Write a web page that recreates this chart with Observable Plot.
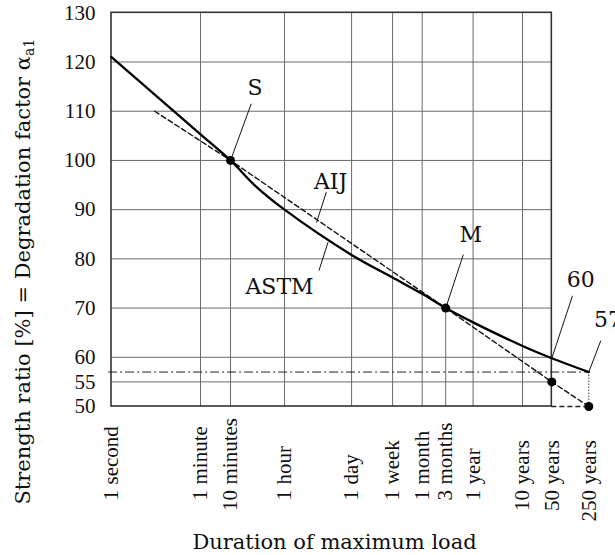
<!DOCTYPE html>
<html><head><meta charset="utf-8">
<script src="https://cdn.jsdelivr.net/npm/d3@7"></script>
<script src="https://cdn.jsdelivr.net/npm/@observablehq/plot@0.6"></script>
<style>body{margin:0;background:#fff}#chart{width:615px;height:555px}</style>
</head><body><div id="chart"></div>
<script>
// Duration axis of the figure (schematic log scale, positions in "decades" as drawn)
const durationNumbers = ["1","1","10","1","1","1","1","3","1","10","50","250"];
const durationUnits = ["second","minute","minutes","hour","day","week","month","months","year","years","years","years"];
const durationPos = [0, 1.854, 2.479, 3.604, 5.0, 5.854, 6.47, 6.96, 7.53, 8.56, 9.17, 9.94];
const fullGridIdx = [1, 3, 4, 5, 6, 8, 9];
const yTicks = [50, 55, 60, 70, 80, 90, 100, 110, 120, 130];
const yGrid = [55, 60, 70, 80, 90, 100, 110, 120];

// ASTM (Madison) curve
const astmX = [0, 1.854, 2.479, 3.0, 3.604, 5.0, 5.854, 6.47, 6.96, 7.53, 8.56, 9.17, 9.94];
const astmY = [121, 105.3, 100, 94.8, 90, 80.8, 76.2, 72.9, 70, 67.1, 62.3, 59.8, 57];
// AIJ straight line
const aijX = [0.9, 2.479, 6.96, 9.17, 9.94];
const aijY = [110, 100, 70, 55, 50];
// marked points: S, M, 50 years, 250 years
const pointX = [2.479, 6.96, 9.17, 9.94];
const pointY = [100, 70, 55, 50];
const limitLevel = 57;

// annotations
const labelText = ["S", "AIJ", "ASTM", "M", "60", "57"];
const labelX = [2.99, 4.5625, 3.5, 7.48, 9.77, 10.05];
const labelY = [113.2, 94.2, 72.76, 83.38, 74.24, 66.1];
const labelAnchor = ["middle", "middle", "middle", "middle", "middle", "start"];
const leaderX1 = [2.91, 4.473, 4.32, 7.327, 9.6, 10.19];
const leaderY1 = [111.5, 93.54, 77.6, 80.87, 72.5, 63.4];
const leaderX2 = [2.479, 4.27, 4.51, 6.96, 9.17, 9.94];
const leaderY2 = [100, 87.4, 83.4, 70, 59.8, 57];

const xTitle = "Duration of maximum load";
const yTitle = "Strength ratio [%] = Degradation factor α";
const ySub = "a1";

const xLeft = durationPos[0], xFrameRight = durationPos[10], xEnd = durationPos[11];
const astm = astmX.map((x, i) => ({x, y: astmY[i]}));
const aij = aijX.map((x, i) => ({x, y: aijY[i]}));
const points = pointX.map((x, i) => ({x, y: pointY[i]}));
const ticks = durationPos.map((x, i) => ({x, n: durationNumbers[i], u: durationUnits[i]}));
const labels = labelText.map((t, i) => ({t, x: labelX[i], y: labelY[i], a: labelAnchor[i]}));
const leaders = leaderX1.map((x1, i) => ({x1, y1: leaderY1[i], x2: leaderX2[i], y2: leaderY2[i]}));
const gridV = fullGridIdx.map(i => durationPos[i]);
const yMin = yTicks[0], yMax = yTicks[yTicks.length - 1];

const serif = "'Liberation Serif', 'Times New Roman', serif";
const century = "'DejaVu Serif', serif";
const gridColor = "#6a6a6a";

const chart = Plot.plot({
  width: 615, height: 555,
  marginLeft: 111, marginRight: 26.7, marginTop: 12.3, marginBottom: 149,
  x: {domain: [xLeft, xEnd], axis: null},
  y: {domain: [yMin, yMax], axis: null},
  style: {background: "#fff", color: "#111"},
  marks: [
    // grid
    Plot.ruleY(yGrid, {x1: xLeft, x2: xFrameRight, stroke: gridColor, strokeWidth: 1}),
    Plot.ruleX(gridV, {y1: yMin, y2: yMax, stroke: gridColor, strokeWidth: 1}),
    Plot.ruleX(points.slice(0, 2), {x: "x", y1: yMin, y2: "y", stroke: gridColor, strokeWidth: 1}),
    // frame
    Plot.rect([{x1: xLeft, x2: xFrameRight, y1: yMin, y2: yMax}], {x1: "x1", x2: "x2", y1: "y1", y2: "y2", fill: "none", stroke: "#333", strokeWidth: 1.6}),
    // limit level (dash-dot) and extensions
    Plot.ruleY([limitLevel], {x1: xLeft - 0.06, x2: xEnd, stroke: "#222", strokeWidth: 1, strokeDasharray: "9,3,2,3"}),
    Plot.ruleX([xEnd], {y1: yMin, y2: limitLevel, stroke: "#444", strokeWidth: 1, strokeDasharray: "1.5,1.5"}),
    Plot.ruleY([yMin], {x1: xFrameRight, x2: xEnd, stroke: "#222", strokeWidth: 1.3, strokeDasharray: "5,3"}),
    // AIJ dashed line
    Plot.line(aij, {x: "x", y: "y", stroke: "#111", strokeWidth: 1.4, strokeDasharray: "5,3"}),
    // ASTM curve
    Plot.line(astm, {x: "x", y: "y", stroke: "#000", strokeWidth: 2.3, curve: "catmull-rom"}),
    // points
    Plot.dot(points, {x: "x", y: "y", r: 4.5, fill: "#000", stroke: "none"}),
    // leaders
    Plot.link(leaders, {x1: "x1", y1: "y1", x2: "x2", y2: "y2", stroke: "#111", strokeWidth: 1}),
    // annotation labels
    Plot.text(labels.filter(d => d.a === "middle"), {x: "x", y: "y", text: "t", lineAnchor: "bottom", fontSize: 22, fontFamily: century, fill: "#111"}),
    Plot.text(labels.filter(d => d.a === "start"), {x: "x", y: "y", text: "t", textAnchor: "start", lineAnchor: "bottom", fontSize: 22, fontFamily: century, fill: "#111"}),
    // y tick labels
    Plot.text(yTicks, {x: xLeft, y: d => d, text: d => String(d), textAnchor: "end", dx: -16, fontSize: 21, fontFamily: serif, fill: "#111"}),
    // x tick labels (rotated; number below, unit above)
    Plot.text(ticks, {x: "x", y: yMin, text: "n", rotate: -90, textAnchor: "end", dy: 83.5, fontSize: 21, fontFamily: serif, fill: "#111"}),
    Plot.text(ticks, {x: "x", y: yMin, text: "u", rotate: -90, textAnchor: "start", dy: 78, fontSize: 21, fontFamily: serif, fill: "#111"}),
    // axis titles
    Plot.text([xTitle], {frameAnchor: "bottom", textAnchor: "middle", dx: -15.6, dy: 142, lineAnchor: "bottom", fontSize: 21, fontFamily: century, fill: "#111"}),
    Plot.text([yTitle], {frameAnchor: "left", textAnchor: "middle", dx: -82, dy: 62, rotate: -90, lineAnchor: "bottom", fontSize: 21, fontFamily: century, fill: "#111"})
  ]
});

chart.querySelectorAll("text").forEach(t => {
  if (t.textContent === yTitle) {
    const ts = document.createElementNS("http://www.w3.org/2000/svg", "tspan");
    ts.setAttribute("font-size", "14");
    ts.setAttribute("dy", "0.3em");
    ts.textContent = ySub;
    t.appendChild(ts);
  }
});
document.getElementById("chart").appendChild(chart);
</script>
</body></html>
